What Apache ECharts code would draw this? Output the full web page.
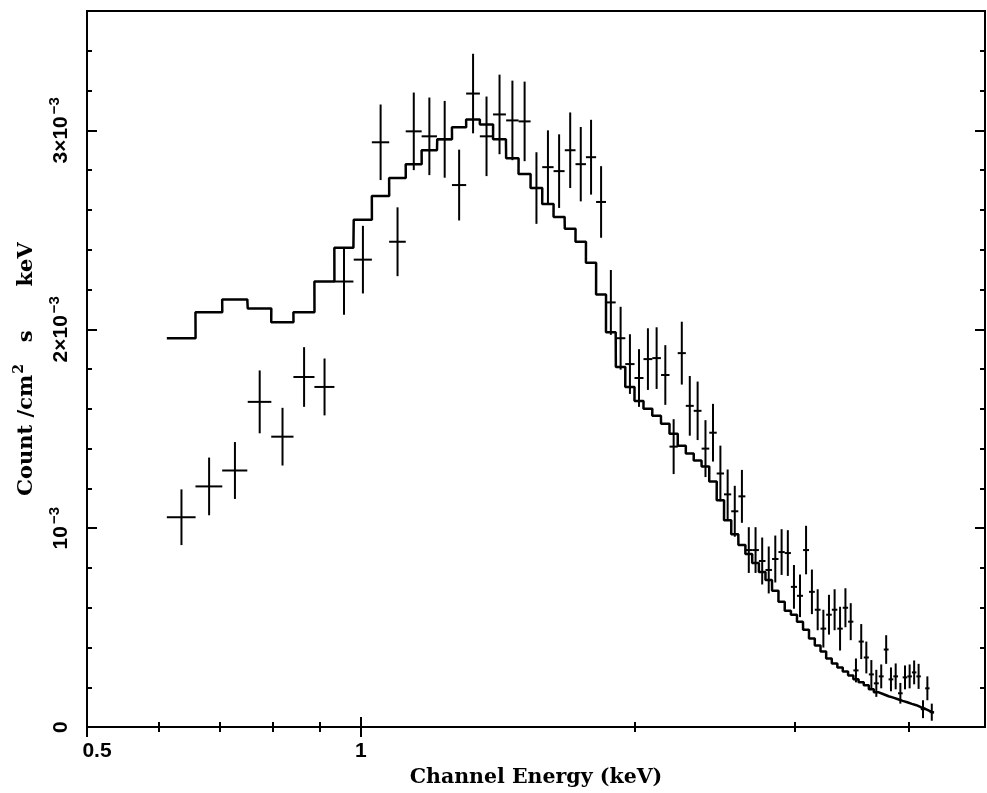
<!DOCTYPE html>
<html>
<head>
<meta charset="utf-8">
<script src="https://cdn.jsdelivr.net/npm/echarts@6/dist/echarts.min.js"></script>
<style>
  html, body { margin: 0; padding: 0; background: #fff; }
  #chart { width: 987px; height: 793px; }
</style>
</head>
<body>
<div id="chart"></div>
<script>
// bin centres (keV), bins are ~0.046 keV wide
const energy = [
  0.635, 0.681, 0.727, 0.774, 0.820, 0.866, 0.912, 0.958, 1.005, 1.051,
  1.097, 1.143, 1.189, 1.236, 1.282, 1.328, 1.374, 1.420, 1.467, 1.513,
  1.559, 1.605, 1.651, 1.698, 1.744, 1.790, 1.836, 1.882, 1.929, 1.975,
  2.021, 2.067, 2.113, 2.160, 2.206, 2.252, 2.298, 2.344, 2.391, 2.437,
  2.483, 2.529, 2.575, 2.622, 2.668, 2.714, 2.760, 2.806, 2.853, 2.899,
  2.945, 2.991, 3.037, 3.084, 3.130, 3.176, 3.222, 3.268, 3.315, 3.361,
  3.407, 3.453, 3.499, 3.546, 3.592, 3.638, 3.684, 3.730, 3.777, 3.823,
  3.869, 3.915, 3.961, 4.008, 4.054, 4.100, 4.146, 4.192, 4.239
];
const binHalfWidth = 0.0231;

// observed counts, in units of 1e-3
const countRate = [
  1.055, 1.21, 1.29, 1.635, 1.46, 1.76, 1.71, 2.24, 2.35, 2.94,
  2.44, 2.995, 2.97, 2.955, 2.725, 3.185, 2.97, 3.08, 3.05, 3.045,
  2.71, 2.815, 2.795, 2.90, 2.83, 2.865, 2.64, 2.135, 1.955, 1.825,
  1.755, 1.85, 1.855, 1.77, 1.41, 1.88, 1.615, 1.59, 1.40, 1.48,
  1.275, 1.17, 1.085, 1.16, 0.89, 0.89, 0.835, 0.79, 0.845, 0.88,
  0.875, 0.705, 0.66, 0.89, 0.68, 0.59, 0.495, 0.565, 0.59, 0.495,
  0.60, 0.53, 0.285, 0.43, 0.35, 0.265, 0.22, 0.255, 0.39, 0.24,
  0.255, 0.17, 0.25, 0.255, 0.275, 0.255, 0.09, 0.195, 0.075
];
const countErr = [
  0.14, 0.145, 0.143, 0.158, 0.145, 0.15, 0.143, 0.167, 0.17, 0.19,
  0.173, 0.195, 0.195, 0.193, 0.178, 0.2, 0.2, 0.2, 0.2, 0.2,
  0.18, 0.185, 0.185, 0.19, 0.187, 0.188, 0.18, 0.163, 0.158, 0.15,
  0.145, 0.155, 0.155, 0.15, 0.138, 0.158, 0.15, 0.147, 0.143, 0.145,
  0.14, 0.125, 0.128, 0.133, 0.115, 0.115, 0.118, 0.118, 0.118, 0.115,
  0.115, 0.11, 0.107, 0.122, 0.112, 0.103, 0.095, 0.1, 0.103, 0.11,
  0.098, 0.093, 0.06, 0.088, 0.08, 0.072, 0.068, 0.06, 0.072, 0.06,
  0.065, 0.052, 0.06, 0.06, 0.06, 0.063, 0.045, 0.06, 0.043
];
// folded model, same bins
const modelRate = [
  1.955, 2.085, 2.15, 2.105, 2.035, 2.085, 2.24, 2.41, 2.55, 2.67,
  2.76, 2.83, 2.90, 2.955, 3.015, 3.055, 3.03, 2.955, 2.86, 2.78,
  2.71, 2.63, 2.565, 2.505, 2.44, 2.335, 2.175, 1.985, 1.81, 1.71,
  1.64, 1.60, 1.565, 1.525, 1.475, 1.415, 1.375, 1.34, 1.31, 1.235,
  1.14, 1.04, 0.97, 0.915, 0.87, 0.825, 0.78, 0.74, 0.685, 0.63,
  0.585, 0.565, 0.53, 0.49, 0.445, 0.41, 0.38, 0.345, 0.32, 0.30,
  0.28, 0.26, 0.24, 0.225, 0.21, 0.19, 0.175, 0.165, 0.155, 0.148,
  0.14, 0.132, 0.125, 0.117, 0.11, 0.10, 0.092, 0.082, 0.072
];

const xMajorTicks = [0.5, 1];
const xMinorTicks = [0.6, 0.7, 0.8, 0.9, 2, 3, 4];
const yMajorTicks = [0, 1, 2, 3];
const yMinorTicks = [0.2, 0.4, 0.6, 0.8, 1.2, 1.4, 1.6, 1.8, 2.2, 2.4, 2.6, 2.8, 3.2, 3.4];
const yTickText = {0: '{b|0}', 1: '{b|10}{s|\u22123}', 2: '{b|2\u00d710}{s|\u22123}', 3: '{b|3\u00d710}{s|\u22123}'};

const X_MIN = 0.5, X_MAX = 4.85, Y_MIN = 0, Y_MAX = 3.6;

const labelFont = 'Liberation Sans';
const titleFont = 'DejaVu Serif';

function xAxisDef(pos, ticks, len, withLabels) {
  const ax = {
    type: 'log', min: X_MIN, max: X_MAX, position: pos,
    axisLine: { show: false },
    splitLine: { show: false },
    axisTick: { show: true, inside: true, length: len, customValues: ticks,
      lineStyle: { color: '#000', width: 2 } },
    axisLabel: { show: false }
  };
  if (withLabels) {
    ax.axisLabel = {
      show: true, customValues: xMajorTicks, margin: 14,
      formatter: v => v < 0.75 ? '{p|0.5}' : '{a|1}',
      rich: {
        p: { fontFamily: labelFont, fontWeight: 'bold', fontSize: 21, color: '#000', padding: [0, 0, 0, 20] },
        a: { fontFamily: labelFont, fontWeight: 'bold', fontSize: 21, color: '#000' }
      }
    };
    ax.name = 'Channel Energy (keV)';
    ax.nameLocation = 'middle';
    ax.nameGap = 38;
    ax.nameTextStyle = { fontFamily: titleFont, fontWeight: 'bold', fontSize: 20.5, color: '#000' };
  }
  return ax;
}

function yAxisDef(pos, ticks, len, withLabels) {
  const ax = {
    type: 'value', min: Y_MIN, max: Y_MAX, position: pos,
    axisLine: { show: false },
    splitLine: { show: false },
    axisTick: { show: true, inside: true, length: len, customValues: ticks,
      lineStyle: { color: '#000', width: 2 } },
    axisLabel: { show: false }
  };
  if (withLabels) {
    ax.axisLabel = {
      show: true, customValues: yMajorTicks, rotate: 90, margin: 15,
      formatter: v => yTickText[Math.round(v)],
      rich: {
        b: { fontFamily: labelFont, fontWeight: 'bold', fontSize: 21, color: '#000', verticalAlign: 'bottom', lineHeight: 30 },
        s: { fontFamily: labelFont, fontWeight: 'bold', fontSize: 15, color: '#000', verticalAlign: 'bottom', lineHeight: 30, padding: [0, 0, 10, 2] }
      }
    };
    ax.name = '{t|Count /cm}{u|2}{t|   s      keV}';
    ax.nameLocation = 'middle';
    ax.nameGap = 50;
    ax.nameTextStyle = {
      rich: {
        t: { fontFamily: titleFont, fontWeight: 'bold', fontSize: 21, color: '#000', verticalAlign: 'bottom', lineHeight: 30 },
        u: { fontFamily: titleFont, fontWeight: 'bold', fontSize: 14, color: '#000', verticalAlign: 'bottom', lineHeight: 30, padding: [0, 0, 11, 1] }
      }
    };
  }
  return ax;
}

const points = energy.map((e, i) => [e, countRate[i], countErr[i]]);
const modelLine = [];
energy.forEach((e, i) => {
  modelLine.push([e - binHalfWidth, modelRate[i]]);
  modelLine.push([e + binHalfWidth, modelRate[i]]);
});

const chart = echarts.init(document.getElementById('chart'), null, { renderer: 'canvas' });

const option = {
  animation: false,
  backgroundColor: '#fff',
  grid: { left: 87, right: 2, top: 11, bottom: 63, show: true, borderColor: '#000', borderWidth: 2 },
  xAxis: [
    xAxisDef('bottom', xMajorTicks, 10, true),
    xAxisDef('bottom', xMinorTicks, 5, false),
    xAxisDef('top', xMajorTicks, 10, false),
    xAxisDef('top', xMinorTicks, 5, false)
  ],
  yAxis: [
    yAxisDef('left', yMajorTicks, 10, true),
    yAxisDef('left', yMinorTicks, 5, false),
    yAxisDef('right', yMajorTicks, 10, false),
    yAxisDef('right', yMinorTicks, 5, false)
  ],
  series: [
    {
      type: 'line',
      data: modelLine,
      showSymbol: false,
      lineStyle: { color: '#000', width: 2.5 },
      z: 2
    },
    {
      type: 'custom',
      data: points,
      encode: { x: 0, y: 1 },
      renderItem: function (params, api) {
        const e = api.value(0), y = api.value(1), err = api.value(2);
        const l = api.coord([e - binHalfWidth, y]);
        const r = api.coord([e + binHalfWidth, y]);
        const t = api.coord([e, y + err]);
        const b = api.coord([e, y - err]);
        const style = { stroke: '#000', lineWidth: 2 };
        return {
          type: 'group',
          children: [
            { type: 'line', shape: { x1: l[0], y1: l[1], x2: r[0], y2: r[1] }, style: style },
            { type: 'line', shape: { x1: t[0], y1: t[1], x2: b[0], y2: b[1] }, style: style }
          ]
        };
      },
      z: 3
    }
  ]
};

chart.setOption(option);
window.addEventListener('resize', function () {
  chart.resize();
});
</script>
</body>
</html>
